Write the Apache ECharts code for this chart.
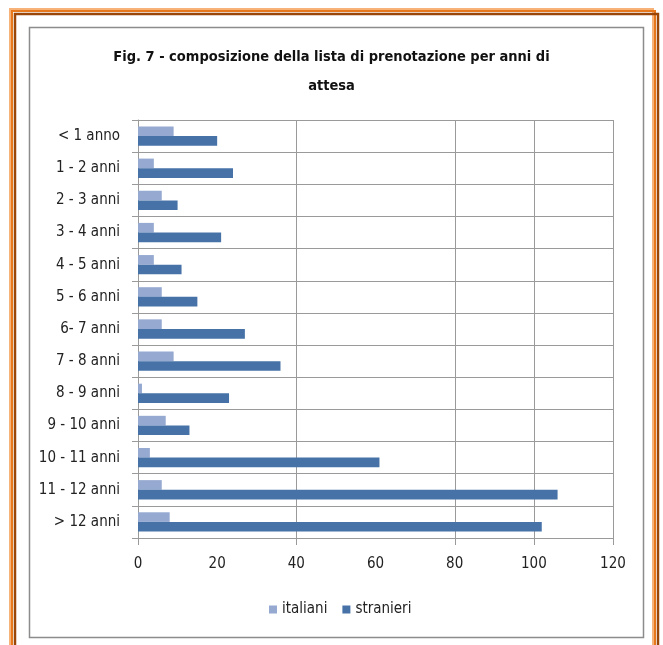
<!DOCTYPE html>
<html>
<head>
<meta charset="utf-8">
<script src="https://cdn.jsdelivr.net/npm/echarts@6/dist/echarts.min.js"></script>
<style>
  html, body { margin: 0; padding: 0; background: #ffffff; }
  #chart { width: 663px; height: 645px; }
</style>
</head>
<body>
<div id="chart"></div>
<script>
// Waiting-time bands of the booking list
const categories = ['< 1 anno', '1 - 2 anni', '2 - 3 anni', '3 - 4 anni', '4 - 5 anni', '5 - 6 anni',
  '6- 7 anni', '7 - 8 anni', '8 - 9 anni', '9 - 10 anni', '10 - 11 anni', '11 - 12 anni', '> 12 anni'];
const italiani = [9, 4, 6, 4, 4, 6, 6, 9, 1, 7, 3, 6, 8];
const stranieri = [20, 24, 10, 21, 11, 15, 27, 36, 23, 13, 61, 106, 102];
const xMin = 0;
const xMax = 120;
const xLabelStep = 20;
// values where vertical gridlines (with their outer ticks) are drawn
const xGridValues = [0, 40, 80, 100, 120];

const FONT = '"DejaVu Sans Condensed", "Liberation Sans", sans-serif';
const GRID = '#9a9a9a';
const TICK_LEN = 7;

const chart = echarts.init(document.getElementById('chart'), null, { renderer: 'canvas' });

chart.setOption({
  backgroundColor: '#ffffff',
  animation: false,
  title: {
    text: 'Fig. 7 - composizione della lista di prenotazione per anni di\nattesa',
    left: 'center',
    top: 38,
    textStyle: {
      fontFamily: FONT,
      fontWeight: 'bold',
      fontSize: 14.5,
      lineHeight: 29,
      color: '#111'
    }
  },
  graphic: [
    // page frame: pale, orange and brown strokes
    { type: 'polyline', shape: { points: [[10, 645], [10, 9], [653, 9], [653, 645]] }, style: { stroke: '#f7b27a', lineWidth: 2, fill: null } },
    { type: 'polyline', shape: { points: [[12, 645], [12, 11], [655, 11], [655, 645]] }, style: { stroke: '#e8781c', lineWidth: 2, fill: null } },
    { type: 'polyline', shape: { points: [[15, 645], [15, 14], [658, 14], [658, 645]] }, style: { stroke: '#9a4608', lineWidth: 2.5, fill: null } },
    // chart box
    { type: 'rect', shape: { x: 29.5, y: 27.5, width: 614, height: 610 }, style: { stroke: '#8c8c8c', lineWidth: 1.5, fill: null } }
  ],
  legend: {
    top: 597,
    left: 264,
    itemWidth: 8,
    itemHeight: 8,
    itemGap: 15,
    icon: 'rect',
    textStyle: { fontFamily: FONT, fontSize: 15, color: '#222' },
    data: ['italiani', 'stranieri']
  },
  grid: { left: 138, right: 50, top: 120, bottom: 107, containLabel: false },
  xAxis: {
    type: 'value',
    min: xMin,
    max: xMax,
    interval: xLabelStep,
    axisLine: { show: true, lineStyle: { color: GRID, width: 1 } },
    axisTick: { show: false },
    axisLabel: { fontFamily: FONT, fontSize: 15, color: '#222', margin: 19 },
    splitLine: { show: false }
  },
  yAxis: {
    type: 'category',
    inverse: true,
    data: categories,
    axisLine: { show: true, lineStyle: { color: GRID, width: 1 } },
    axisTick: { show: true, length: 6, lineStyle: { color: GRID } },
    axisLabel: { fontFamily: FONT, fontSize: 15, color: '#222', margin: 18 },
    splitLine: { show: true, lineStyle: { color: GRID, width: 1 } }
  },
  series: [
    {
      // vertical gridlines through the plot, each continuing as a tick below the value axis
      name: 'gridlines',
      type: 'custom',
      z: 1,
      silent: true,
      clip: false,
      data: xGridValues.map(v => [v, 0]),
      encode: { x: 0, y: 1 },
      renderItem: function (params, api) {
        const x = Math.round(api.coord([api.value(0), 0])[0]) + 0.5;
        const cs = params.coordSys;
        return {
          type: 'line',
          shape: { x1: x, y1: cs.y, x2: x, y2: cs.y + cs.height + TICK_LEN },
          style: { stroke: GRID, lineWidth: 1 }
        };
      }
    },
    {
      name: 'italiani',
      type: 'bar',
      data: italiani,
      barGap: '0%',
      barCategoryGap: '40%',
      z: 3,
      itemStyle: { color: '#95a9d1' }
    },
    {
      name: 'stranieri',
      type: 'bar',
      data: stranieri,
      barGap: '0%',
      barCategoryGap: '40%',
      z: 3,
      itemStyle: { color: '#4672a7' }
    }
  ]
});
</script>
</body>
</html>
